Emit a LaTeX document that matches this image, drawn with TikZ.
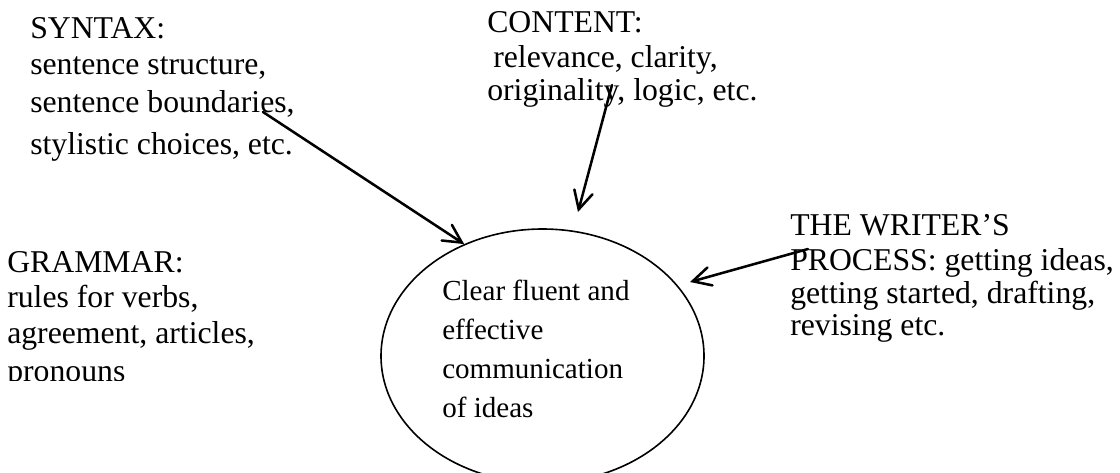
\documentclass[tikz,border=0pt]{standalone}
\usepackage{fontspec}
\setmainfont{Liberation Serif}
\usetikzlibrary{arrows.meta,shapes.geometric}
\begin{document}
\begin{tikzpicture}[x=0.75pt,y=-0.75pt,
  lbl/.style={anchor=base west, inner sep=0pt, font=\fontsize{23.8}{28}\selectfont},
  inlbl/.style={anchor=base west, inner sep=0pt, font=\fontsize{21.8}{26}\selectfont},
  conn/.style={line width=1.9pt, line cap=round, -{Straight Barb[length=13.5pt,width=14pt,line cap=round]}},
  ring/.style={draw, ellipse, line width=1.2pt, inner sep=0pt, minimum width=242.25pt, minimum height=190.5pt}]
\useasboundingbox (0,0) rectangle (1120,472);
\clip (0,0) rectangle (1120,472);

% central ellipse
\node[ring] (goal) at (542.5,356) {};
\node[inlbl] (g1) at (442,300) {Clear fluent and};
\node[inlbl] (g2) at (442,339) {effective};
\node[inlbl] (g3) at (442,378) {communication};
\node[inlbl] (g4) at (442,417) {of ideas};

% SYNTAX
\node[lbl] (s1) at (30,38) {SYNTAX:};
\node[lbl] (s2) at (30,74) {sentence structure,};
\node[lbl] (s3) at (30,112) {sentence boundaries,};
\node[lbl] (s4) at (30,154) {stylistic choices, etc.};

% CONTENT
\node[lbl] (c1) at (487,32) {CONTENT:};
\node[lbl] (c2) at (493,67) {relevance, clarity,};
\node[lbl] (c3) at (487,100) {originality, logic, etc.};

% GRAMMAR
\node[lbl] (r1) at (7,272) {GRAMMAR:};
\node[lbl] (r2) at (7,307) {rules for verbs,};
\node[lbl] (r3) at (7,343) {agreement, articles,};
\begin{scope}
\clip (0,350) rectangle (300,380);
\node[lbl] (r4) at (7,381) {pronouns};
\end{scope}

% THE WRITER'S PROCESS
\node[lbl] (w1) at (790,235) {THE WRITER’S};
\node[lbl] (w2) at (790,270) {PROCESS: getting ideas,};
\node[lbl] (w3) at (790,303) {getting started, drafting,};
\node[lbl] (w4) at (790,335) {revising etc.};

% connector ends
\coordinate (synS) at (263,112);
\coordinate (conS) at (612,85);
\coordinate (conE) at (578,212);
\coordinate (wriS) at (808,249);
\coordinate (wriE) at (690,282);

\draw[conn] (synS) -- (goal.125.9);
\draw[conn] (conS) -- (conE);
\draw[conn] (wriS) -- (wriE);
\end{tikzpicture}
\end{document}
